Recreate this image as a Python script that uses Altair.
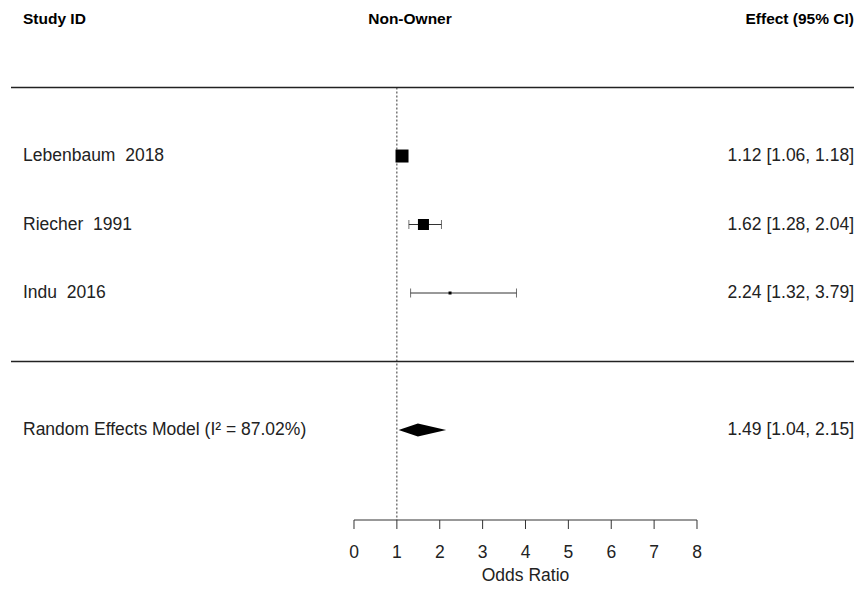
import altair as alt
import pandas as pd

# ---------------- data ----------------
study_labels = ["Lebenbaum\u00a0 2018", "Riecher\u00a0 1991", "Indu\u00a0 2016"]
study_rows = [3, 2, 1]
odds_ratio = [1.12, 1.62, 2.24]
ci_lower = [1.06, 1.28, 1.32]
ci_upper = [1.18, 2.04, 3.79]
weights = [41.1, 35.5, 22.2]  # estimated random-effects weights (%)

re_label = "Random Effects Model (I\u00b2 = 87.02%)"
re_row = -1
re_est = 1.49
re_lower = 1.04
re_upper = 2.15

axis_ticks = [0, 1, 2, 3, 4, 5, 6, 7, 8]
axis_title = "Odds Ratio"
headers = ["Study ID", "Non-Owner", "Effect (95% CI)"]
header_row = 5
separator_rows = [4, 0]
null_value = 1

# ---------------- layout ----------------
W, H = 846, 512
X_DOM = [-8.07, 11.662]
Y_DOM = [-2.314, 5.161]
FONT = "Liberation Sans"
FS = 17.5
TXT = "#222222"
DIAMOND_HALF = 0.095

xs = alt.Scale(domain=X_DOM, nice=False, zero=False)
ys = alt.Scale(domain=Y_DOM, nice=False, zero=False)

def fmt(e, l, h):
    return f"{e:.2f} [{l:.2f}, {h:.2f}]"

studies = pd.DataFrame({
    "label": study_labels,
    "row": study_rows,
    "or": odds_ratio,
    "lo": ci_lower,
    "hi": ci_upper,
    "w": weights,
    "eff": [fmt(e, l, h) for e, l, h in zip(odds_ratio, ci_lower, ci_upper)],
})
summary_text = pd.DataFrame({
    "label": [re_label],
    "row": [re_row],
    "eff": [fmt(re_est, re_lower, re_upper)],
})
diamond = pd.DataFrame({
    "x": [re_lower, re_est, re_upper],
    "y": [re_row, re_row + DIAMOND_HALF, re_row],
    "y2": [re_row, re_row - DIAMOND_HALF, re_row],
})
seps = pd.DataFrame({"row": separator_rows})
ref = pd.DataFrame({"x": [null_value], "y": [separator_rows[0]], "y2": [Y_DOM[0]]})
axis_line = pd.DataFrame({"x": [axis_ticks[0]], "x2": [axis_ticks[-1]], "y": [Y_DOM[0]]})
ticks = pd.DataFrame({"t": axis_ticks, "lab": [str(t) for t in axis_ticks]})
title_df = pd.DataFrame({"t": [(axis_ticks[0] + axis_ticks[-1]) / 2], "lab": [axis_title]})
hdr = pd.DataFrame({"h": headers, "row": [header_row] * 3})

X = lambda f: alt.X(f, scale=xs, axis=None)
Y = lambda f: alt.Y(f, scale=ys, axis=None)

axis_layer = alt.Chart(axis_line).mark_rule(color="#333333", strokeWidth=1).encode(
    x=X("x:Q"), x2="x2:Q", y=Y("y:Q"),
)
tick_layer = alt.Chart(ticks).mark_rule(color="#333333", strokeWidth=1).encode(
    x=X("t:Q"), y=alt.value(H), y2=alt.value(H + 9),
)
tick_labels = alt.Chart(ticks).mark_text(
    align="center", baseline="middle", font=FONT, fontSize=FS, color=TXT
).encode(x=X("t:Q"), y=alt.value(H + 33), text="lab:N")
title_layer = alt.Chart(title_df).mark_text(
    align="center", baseline="middle", font=FONT, fontSize=FS, color=TXT
).encode(x=X("t:Q"), y=alt.value(H + 56), text="lab:N")

ref_layer = alt.Chart(ref).mark_rule(color="#333333", strokeWidth=1, strokeDash=[2, 2]).encode(
    x=X("x:Q"), y=Y("y:Q"), y2="y2:Q",
)
sep_layer = alt.Chart(seps).mark_rule(color="#222222", strokeWidth=1.5).encode(
    x=alt.value(3), x2=alt.value(W), y=Y("row:Q"),
)
ci_layer = alt.Chart(studies).mark_rule(color="#333333", strokeWidth=1).encode(
    x=X("lo:Q"), x2="hi:Q", y=Y("row:Q"),
)
cap_lo = alt.Chart(studies).mark_tick(color="#333333", thickness=1, size=9, orient="vertical").encode(
    x=X("lo:Q"), y=Y("row:Q"),
)
cap_hi = alt.Chart(studies).mark_tick(color="#333333", thickness=1, size=9, orient="vertical").encode(
    x=X("hi:Q"), y=Y("row:Q"),
)
sq_layer = alt.Chart(studies).mark_square(color="black", filled=True, opacity=1).encode(
    x=X("or:Q"), y=Y("row:Q"),
    size=alt.Size("w:Q", scale=alt.Scale(domain=[min(weights), max(weights)], range=[9, 169]), legend=None),
)
dia_layer = alt.Chart(diamond).mark_area(color="black", orient="vertical").encode(
    x=X("x:Q"), y=Y("y:Q"), y2="y2:Q",
)

all_text = pd.concat([studies[["label", "row", "eff"]], summary_text], ignore_index=True)
left_text = alt.Chart(all_text).mark_text(
    align="left", baseline="middle", font=FONT, fontSize=FS, color=TXT
).encode(x=alt.value(15), y=Y("row:Q"), text="label:N")
right_text = alt.Chart(all_text).mark_text(
    align="right", baseline="middle", font=FONT, fontSize=FS, color=TXT
).encode(x=alt.value(W), y=Y("row:Q"), text="eff:N")

def header(i, xpos, align):
    return alt.Chart(hdr.iloc[[i]]).mark_text(
        align=align, baseline="middle", font=FONT, fontSize=15.5, fontWeight="bold", color="black"
    ).encode(x=alt.value(xpos), y=Y("row:Q"), text="h:N")

chart = alt.layer(
    axis_layer, tick_layer, tick_labels, title_layer,
    ref_layer, sep_layer, ci_layer, cap_lo, cap_hi, sq_layer, dia_layer,
    left_text, right_text,
    header(0, 15, "left"), header(1, 402, "center"), header(2, W, "right"),
).properties(
    width=W, height=H,
    autosize=alt.AutoSizeParams(type="none"),
    padding={"left": 0, "top": 0, "right": 0, "bottom": 68},
    background="white",
).configure_view(stroke=None)

chart.save("out.html", embed_options={"renderer": "svg", "actions": False})
